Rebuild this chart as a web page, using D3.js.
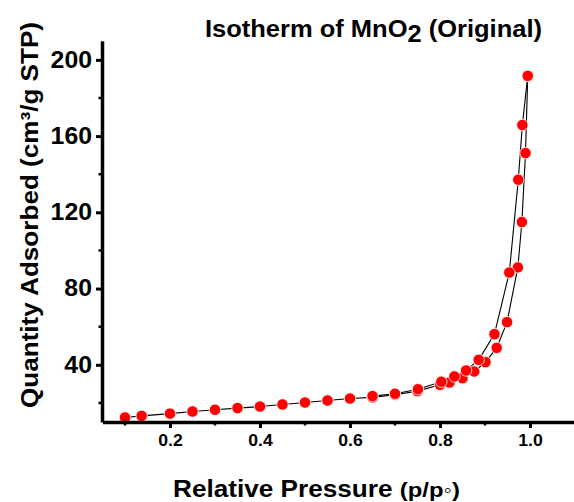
<!DOCTYPE html>
<html>
<head>
<meta charset="utf-8">
<script src="https://cdn.jsdelivr.net/npm/d3@7"></script>
<style>
  body { margin: 0; background: #fff; }
  text { font-family: Arial, "Liberation Sans", sans-serif; font-weight: bold; fill: #000; }
</style>
</head>
<body>
<svg id="chart" width="574" height="502"></svg>
<script>
// adsorption branch (p/p0, cm3/g STP)
const adsP = [0.1, 0.137, 0.2, 0.25, 0.3, 0.35, 0.4, 0.45, 0.5, 0.55, 0.6, 0.65, 0.7, 0.75, 0.8, 0.821, 0.85, 0.876, 0.901, 0.926, 0.949, 0.973, 0.982, 0.99, 0.995];
const adsQ = [12.4, 13.2, 14.4, 15.5, 16.4, 17.3, 18.1, 19.2, 20.2, 21.3, 22.3, 22.9, 24.3, 26.2, 29.5, 30.7, 33.0, 36.5, 41.4, 48.9, 62.4, 91.1, 114.9, 151.1, 191.6];
// desorption branch
const desP = [0.995, 0.983, 0.974, 0.954, 0.921, 0.886, 0.858, 0.832, 0.803, 0.751, 0.7, 0.65];
const desQ = [191.6, 165.8, 137.1, 88.4, 56.1, 42.6, 37.0, 33.9, 31.1, 27.2, 24.8, 23.6];

const xMajor = [0.2, 0.4, 0.6, 0.8, 1.0];
const xMinor = [0.1, 0.3, 0.5, 0.7, 0.9];
const yMajor = [40, 80, 120, 160, 200];
const yMinor = [20, 60, 100, 140, 180];

const svg = d3.select("#chart");

const x = d3.scaleLinear().domain([0.05, 1.1]).range([102.5, 575]);
const y = d3.scaleLinear().domain([10, 210]).range([422, 40.8]);

// stretch text horizontally a bit, the original font is wider than Arial
function stretch(sel, k) {
  sel.each(function () {
    const len = this.getComputedTextLength();
    d3.select(this).attr("textLength", len * k).attr("lengthAdjust", "spacingAndGlyphs");
  });
}

// lines first, so the dots sit on top
const line = d3.line().x(d => x(d[0])).y(d => y(d[1]));
const ads = adsP.map((p, i) => [p, adsQ[i]]);
const des = desP.map((p, i) => [p, desQ[i]]);

const plot = svg.append("g");
[ads, des].forEach(branch => {
  plot.append("path")
    .attr("d", line(branch))
    .attr("fill", "none")
    .attr("stroke", "#000")
    .attr("stroke-width", 1.1);
});

ads.concat(des).forEach(d => {
  plot.append("circle")
    .attr("cx", x(d[0]))
    .attr("cy", y(d[1]))
    .attr("r", 5.7)
    .attr("fill", "#ff0000")
    .attr("stroke", "#fff")
    .attr("stroke-width", 0.8);
});

// x axis
const xAxis = svg.append("g")
  .attr("transform", "translate(0,422)")
  .call(d3.axisBottom(x).tickValues(xMajor).tickSize(6).tickSizeOuter(0).tickPadding(7)
    .tickFormat(d3.format(".1f")));
xAxis.select(".domain").attr("stroke-width", 3.5);
xAxis.selectAll(".tick line").attr("stroke-width", 3);
xAxis.selectAll(".tick text").style("font-size", "16px").attr("font-family", null);
stretch(xAxis.selectAll(".tick text"), 1.1);
xAxis.selectAll(".minor").data(xMinor).enter().append("line")
  .attr("x1", d => x(d)).attr("x2", d => x(d))
  .attr("y1", 0).attr("y2", 3.5)
  .attr("stroke", "#000").attr("stroke-width", 2.5);

// y axis
const yAxis = svg.append("g")
  .attr("transform", "translate(102,0)")
  .call(d3.axisLeft(y).tickValues(yMajor).tickSize(6).tickSizeOuter(0).tickPadding(4));
yAxis.select(".domain").attr("stroke-width", 3.5);
yAxis.selectAll(".tick line").attr("stroke-width", 3);
yAxis.selectAll(".tick text").style("font-size", "23px").attr("font-family", null);
stretch(yAxis.selectAll(".tick text"), 1.08);
yAxis.selectAll(".minor").data(yMinor).enter().append("line")
  .attr("y1", d => y(d)).attr("y2", d => y(d))
  .attr("x1", 0).attr("x2", -3.5)
  .attr("stroke", "#000").attr("stroke-width", 2.5);

// title
const title = svg.append("text")
  .attr("x", 205).attr("y", 36.5)
  .style("font-size", "23px");
title.append("tspan").text("Isotherm of MnO");
title.append("tspan").attr("dy", 5).text("2");
title.append("tspan").attr("dy", -5).text(" (Original)");
title.attr("textLength", 337).attr("lengthAdjust", "spacingAndGlyphs");

// y label
svg.append("text")
  .attr("transform", "translate(38,215) rotate(-90)")
  .attr("text-anchor", "middle")
  .style("font-size", "24px")
  .attr("textLength", 386)
  .attr("lengthAdjust", "spacingAndGlyphs")
  .text("Quantity Adsorbed (cm³/g STP)");

// x label
const xl = svg.append("text")
  .attr("x", 173).attr("y", 497)
  .style("font-size", "23px");
xl.append("tspan").text("Relative Pressure ");
xl.append("tspan").style("font-size", "21px").text("(p/p◦)");
xl.attr("textLength", 287).attr("lengthAdjust", "spacingAndGlyphs");
</script>
</body>
</html>
